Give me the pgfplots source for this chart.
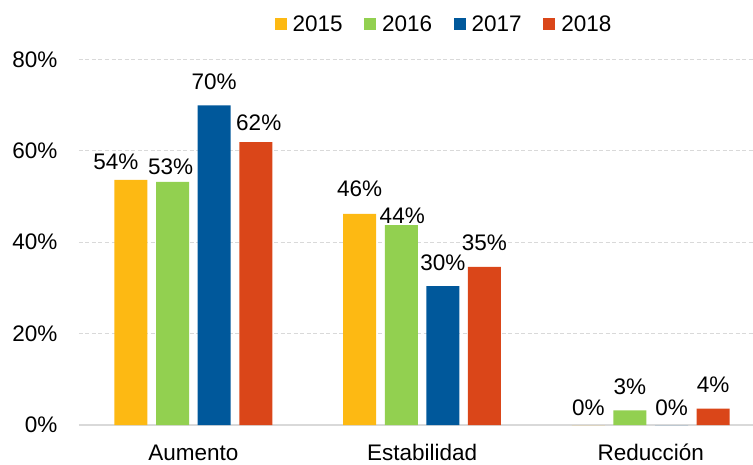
\documentclass[border=0pt]{standalone}
\usepackage{pgfplots}
\pgfplotsset{compat=1.18}
\usepackage{pgfplotstable}
\usepackage{fontspec}
\setmainfont{Liberation Sans}
\newcommand\fs{\fontsize{22.5}{27}\selectfont}
\definecolor{cA}{HTML}{FDB913}
\definecolor{cB}{HTML}{92D050}
\definecolor{cC}{HTML}{00589B}
\definecolor{cD}{HTML}{DA4619}
\definecolor{gridc}{HTML}{D9D9D9}

% x: 0=Aumento, 1=Estabilidad, 2=Reduccion
\pgfplotstableread{
x y dx dy
0 53.65 -15 10
1 46.2 0 17
2 0 0 10
}\tA
\pgfplotstableread{
x y dx dy
0 53.2 -2 7
1 43.7 1 2
2 3.2 0 16
}\tB
\pgfplotstableread{
x y dx dy
0 69.9 0 16
1 30.4 0 16
2 0 0 10
}\tC
\pgfplotstableread{
x y dx dy
0 61.9 3 12
1 34.6 0 16
2 3.6 0 16
}\tD

\begin{document}
\begin{tikzpicture}[font=\fs]
\useasboundingbox (0,0) rectangle (753pt,464pt);
\begin{axis}[
  at={(79pt,39pt)}, anchor=south west,
  scale only axis, width=674pt, height=365.7pt,
  ybar=8.6pt, bar width=33pt,
  xmin=-0.5, xmax=2.447, ymin=0, ymax=80,
  enlargelimits=false,
  axis line style={draw=none},
  major tick length=0pt,
  xtick={0,1,2},
  xticklabels={Aumento,Estabilidad,Reducción},
  xticklabel style={font=\fs, inner sep=0pt, anchor=base, yshift=-35pt},
  ytick={20,40,60,80},
  extra y ticks={0},
  extra y tick style={grid style={solid, draw=gridc, line width=1.5pt}},
  yticklabel={\pgfmathprintnumber{\tick}\%},
  yticklabel style={font=\fs, inner sep=0pt, anchor=east, xshift=-21.5pt},
  /pgf/number format/assume math mode=true,
  ymajorgrids,
  grid style={draw=gridc, line width=1.2pt, dash pattern=on 4pt off 2.5pt},
  nodes near coords={\pgfmathprintnumber[fixed,precision=0]{\pgfplotspointmeta}\%},
  visualization depends on={\thisrow{dx} \as \dx},
  visualization depends on={\thisrow{dy} \as \dy},
  nodes near coords style={font=\fs, text=black, inner sep=0pt, anchor=base, xshift=\dx pt, yshift=\dy pt},
  legend columns=4,
  legend style={draw=none, fill=none, font=\fs, at={(0.540,1.0965)}, anchor=center,
    inner sep=0pt, nodes={inner sep=0pt},
    /tikz/every odd column/.append style={column sep=6pt},
    /tikz/every even column/.append style={column sep=21.5pt}},
  legend image code/.code={\fill[#1] (0pt,-5.5pt) rectangle (12pt,6pt);},
]
\addplot[fill=cA, draw=none] table[x=x,y=y] {\tA};
\addplot[fill=cB, draw=none] table[x=x,y=y] {\tB};
\addplot[fill=cC, draw=none] table[x=x,y=y] {\tC};
\addplot[fill=cD, draw=none] table[x=x,y=y] {\tD};
\legend{2015,2016,2017,2018}
\end{axis}
\end{tikzpicture}
\end{document}
